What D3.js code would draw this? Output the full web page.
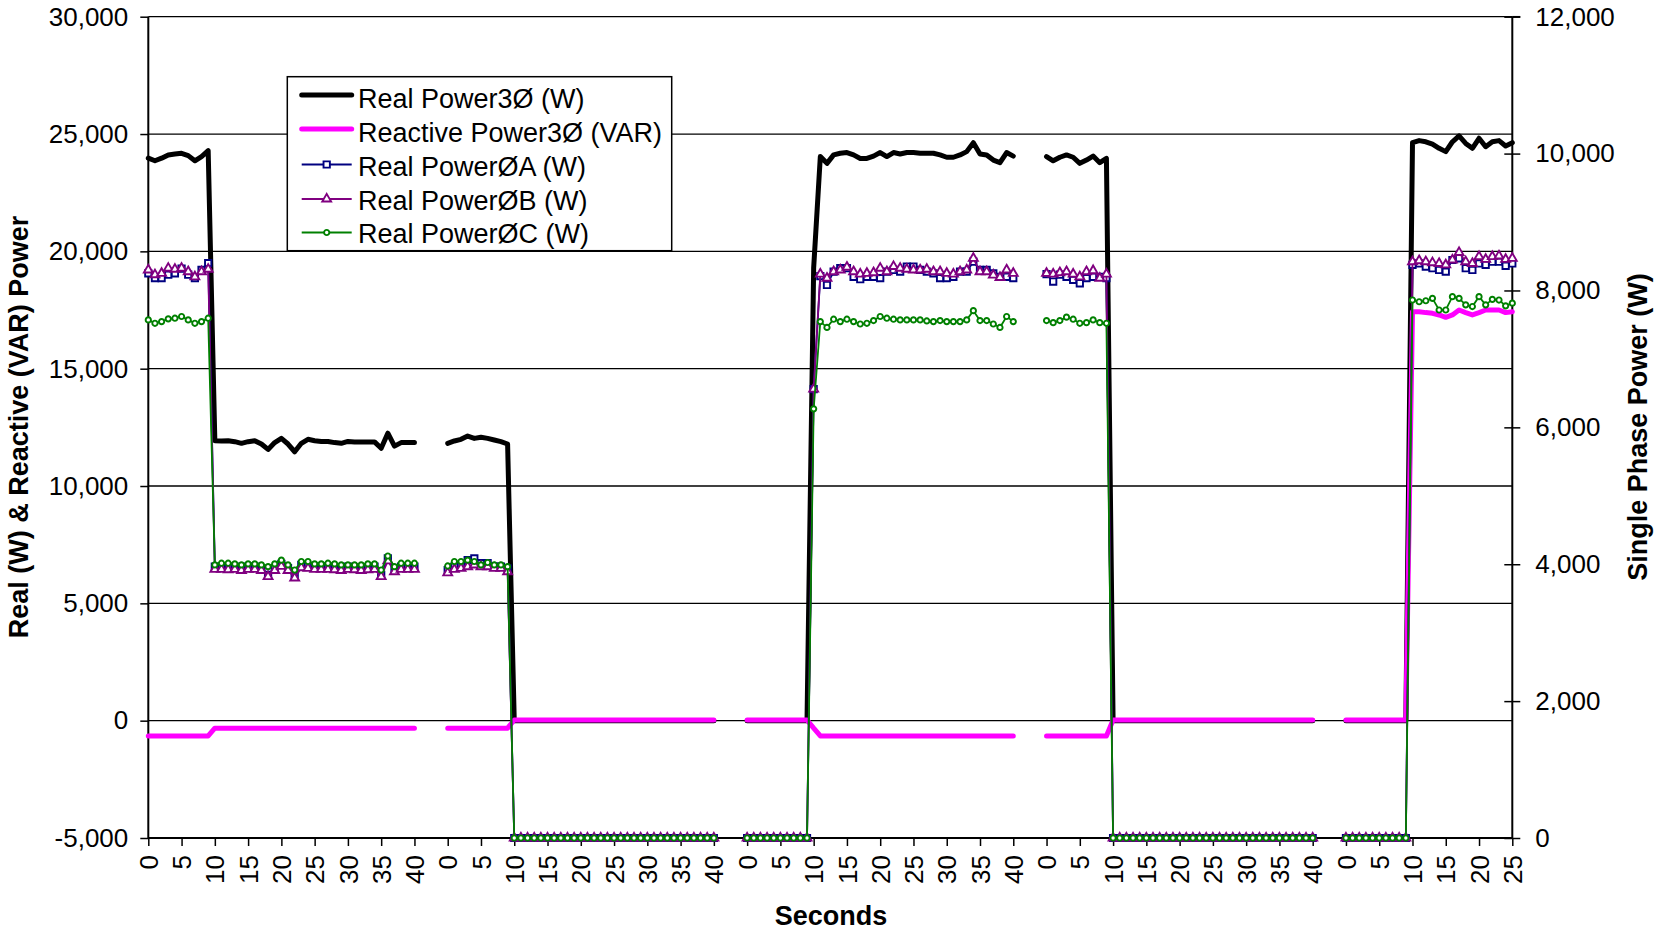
<!DOCTYPE html>
<html><head><meta charset="utf-8">
<script src="https://cdn.jsdelivr.net/npm/d3@7"></script>
<style>
html,body{margin:0;padding:0;background:#fff;}
svg{display:block;font-family:"Liberation Sans",Arial,Helvetica,sans-serif;}
</style>
</head><body>
<svg id="chart" width="1657" height="932"></svg>
<script>
// ---------- categories (seconds, restarting for each run) ----------
const secondsRun = [0,1,2,3,4,5,6,7,8,9,10,11,12,13,14,15,16,17,18,19,20,21,22,23,24,25,26,27,28,29,30,31,32,33,34,35,36,37,38,39,40,41,42,43,44];
const secondsLastRun = [0,1,2,3,4,5,6,7,8,9,10,11,12,13,14,15,16,17,18,19,20,21,22,23,24,25];
const categories = [].concat(secondsRun, secondsRun, secondsRun, secondsRun, secondsLastRun);

const leftTicks = [-5000,0,5000,10000,15000,20000,25000,30000];
const rightTicks = [0,2000,4000,6000,8000,10000,12000];
const N = null;

// ---------- series (left axis) ----------
const realPower3 = [
 23970,23860,23970,24110,24150,24180,24080,23860,24040,24290,
 11930,11920,11930,11890,11820,11890,11930,11790,11560,11850,12030,11790,11460,11820,11990,11930,11900,11900,11850,11820,11900,11880,11880,11880,11880,11610,12250,11700,11850,11850,11850,
 N,N,N,N,
 11820,11920,11990,12130,12030,12080,12030,11960,11890,11790,
 0,0,0,0,0,0,0,0,0,0, 0,0,0,0,0,0,0,0,0,0, 0,0,0,0,0,0,0,0,0,0, 0,
 N,N,N,N,
 0,0,0,0,0,0,0,0,0,0,
 19300,
 24040,23750,24110,24180,24210,24110,23960,23960,24060,24210,24040,24210,24150,24210,24210,24180,24180,24180,24110,24010,24010,24110,24250,24630,24150,24110,23890,23780,24210,24060,
 N,N,N,N,
 24040,23860,24010,24110,24010,23750,23890,24060,23780,23960,
 0,0,0,0,0,0,0,0,0,0, 0,0,0,0,0,0,0,0,0,0, 0,0,0,0,0,0,0,0,0,0, 0,
 N,N,N,N,
 0,0,0,0,0,0,0,0,0,0,
 24630,24720,24670,24570,24390,24250,24670,24920,24600,24390,24820,24460,24670,24720,24490,24630
];
const reactivePower3 = [
 -650,-650,-650,-650,-650,-650,-650,-650,-650,-650,
 -320,-320,-320,-320,-320,-320,-320,-320,-320,-320, -320,-320,-320,-320,-320,-320,-320,-320,-320,-320, -320,-320,-320,-320,-320,-320,-320,-320,-320,-320, -320,
 N,N,N,N,
 -320,-320,-320,-320,-320,-320,-320,-320,-320,-320,
 30,30,30,30,30,30,30,30,30,30, 30,30,30,30,30,30,30,30,30,30, 30,30,30,30,30,30,30,30,30,30, 30,
 N,N,N,N,
 30,30,30,30,30,30,30,30,30,30,
 -320,
 -650,-650,-650,-650,-650,-650,-650,-650,-650,-650, -650,-650,-650,-650,-650,-650,-650,-650,-650,-650, -650,-650,-650,-650,-650,-650,-650,-650,-650,-650,
 N,N,N,N,
 -650,-650,-650,-650,-650,-650,-650,-650,-650,-650,
 30,30,30,30,30,30,30,30,30,30, 30,30,30,30,30,30,30,30,30,30, 30,30,30,30,30,30,30,30,30,30, 30,
 N,N,N,N,
 30,30,30,30,30,30,30,30,30,30,
 17430,17430,17390,17360,17290,17190,17290,17500,17390,17290,17390,17500,17500,17500,17390,17430
];

// ---------- series (right axis, single phase) ----------
const realPowerA = [
 8250,8180,8180,8230,8250,8320,8230,8180,8300,8400,
 3965,3965,3955,3965,3945,3965,3965,3945,3845,3945,4005,3945,3820,3990,3975,3965,3965,3965,3955,3945,3965,3955,3945,3955,3965,3845,4085,3920,3965,3965,3965,
 N,N,N,N,
 3915,3965,3975,4060,4085,4015,4015,3965,3965,3940,
 0,0,0,0,0,0,0,0,0,0, 0,0,0,0,0,0,0,0,0,0, 0,0,0,0,0,0,0,0,0,0, 0,
 N,N,N,N,
 0,0,0,0,0,0,0,0,0,0,
 6560,
 8210,8080,8275,8325,8325,8200,8165,8200,8200,8180,8275,8300,8275,8350,8350,8300,8275,8250,8180,8180,8200,8275,8275,8420,8300,8300,8250,8200,8200,8180,
 N,N,N,N,
 8240,8130,8230,8200,8155,8105,8180,8200,8200,8180,
 0,0,0,0,0,0,0,0,0,0, 0,0,0,0,0,0,0,0,0,0, 0,0,0,0,0,0,0,0,0,0, 0,
 N,N,N,N,
 0,0,0,0,0,0,0,0,0,0,
 8375,8395,8350,8325,8300,8275,8445,8470,8325,8300,8395,8375,8420,8420,8360,8395
];
const realPowerB = [
 8300,8230,8250,8325,8310,8325,8275,8200,8275,8310,
 3925,3925,3920,3925,3910,3925,3925,3910,3820,3910,3970,3910,3800,3950,3940,3925,3925,3925,3920,3910,3925,3920,3910,3920,3925,3820,4050,3890,3925,3925,3925,
 N,N,N,N,
 3875,3925,3940,3965,3990,3965,3965,3940,3940,3890,
 0,0,0,0,0,0,0,0,0,0, 0,0,0,0,0,0,0,0,0,0, 0,0,0,0,0,0,0,0,0,0, 0,
 N,N,N,N,
 0,0,0,0,0,0,0,0,0,0,
 6560,
 8240,8180,8275,8300,8340,8275,8240,8250,8260,8325,8275,8350,8325,8310,8300,8300,8310,8275,8275,8250,8240,8275,8300,8470,8275,8275,8225,8190,8300,8250,
 N,N,N,N,
 8250,8240,8260,8275,8240,8200,8275,8290,8180,8240,
 0,0,0,0,0,0,0,0,0,0, 0,0,0,0,0,0,0,0,0,0, 0,0,0,0,0,0,0,0,0,0, 0,
 N,N,N,N,
 0,0,0,0,0,0,0,0,0,0,
 8420,8435,8420,8405,8395,8375,8445,8555,8420,8395,8495,8455,8495,8505,8455,8470
];
const realPowerC = [
 7570,7520,7545,7585,7595,7620,7570,7520,7545,7595,
 3990,4015,4015,4005,3990,4005,4005,3990,3965,4005,4060,3990,3915,4040,4040,4005,4005,4015,4005,3990,3990,3990,3990,4005,4005,3915,4120,3965,4015,4015,4015,
 N,N,N,N,
 3975,4040,4040,4060,4040,3990,4025,3990,3990,3965,
 0,0,0,0,0,0,0,0,0,0, 0,0,0,0,0,0,0,0,0,0, 0,0,0,0,0,0,0,0,0,0, 0,
 N,N,N,N,
 0,0,0,0,0,0,0,0,0,0,
 6270,
 7545,7460,7580,7545,7580,7545,7510,7520,7560,7620,7595,7580,7570,7570,7570,7570,7555,7545,7560,7545,7545,7545,7570,7705,7560,7560,7510,7460,7620,7545,
 N,N,N,N,
 7560,7530,7560,7610,7580,7520,7530,7570,7530,7520,
 0,0,0,0,0,0,0,0,0,0, 0,0,0,0,0,0,0,0,0,0, 0,0,0,0,0,0,0,0,0,0, 0,
 N,N,N,N,
 0,0,0,0,0,0,0,0,0,0,
 7860,7835,7850,7885,7715,7715,7910,7885,7790,7765,7910,7790,7870,7860,7775,7815
];

// ---------- layout ----------
const plot = {left:148.3, right:1512.3, top:16.7, bottom:838};
const FONT = 26;
const TITLE_FONT = 27;
const LEGEND_FONT = 27;
const svg = d3.select("#chart");
const x = d3.scaleLinear().domain([0, categories.length-1]).range([plot.left, plot.right]);
const yL = d3.scaleLinear().domain([-5000,30000]).range([plot.bottom, plot.top]);
const yR = d3.scaleLinear().domain([0,12000]).range([plot.bottom, plot.top]);
const fmt = d3.formatLocale({decimal:".",thousands:",",grouping:[3],currency:["$",""],minus:"-"}).format(",");

// gridlines
svg.append("g").selectAll("line").data(leftTicks).join("line")
  .attr("x1", plot.left).attr("x2", plot.right)
  .attr("y1", d=>yL(d)).attr("y2", d=>yL(d))
  .attr("stroke","#000").attr("stroke-width",1.3);

// left axis
const gL = svg.append("g").attr("transform",`translate(${plot.left},0)`)
  .call(d3.axisLeft(yL).tickValues(leftTicks).tickSize(8).tickPadding(12).tickFormat(fmt));
gL.select(".domain").remove();
gL.selectAll(".tick line").attr("stroke","#000").attr("stroke-width",1.5);
gL.selectAll(".tick text").attr("font-size",FONT).attr("font-family","Liberation Sans, Arial, sans-serif").attr("fill","#000");

// right axis
const gR = svg.append("g").attr("transform",`translate(${plot.right},0)`)
  .call(d3.axisRight(yR).tickValues(rightTicks).tickSize(8).tickPadding(15).tickFormat(fmt));
gR.select(".domain").remove();
gR.selectAll(".tick line").attr("x1",-8).attr("x2",8).attr("stroke","#000").attr("stroke-width",1.5);
gR.selectAll(".tick text").attr("font-size",FONT).attr("font-family","Liberation Sans, Arial, sans-serif").attr("fill","#000");

// bottom axis
const tickIdx = categories.map((c,i)=>i).filter(i => categories[i] % 5 === 0);
const gB = svg.append("g").attr("transform",`translate(0,${plot.bottom})`)
  .call(d3.axisBottom(x).tickValues(tickIdx).tickSize(8).tickFormat(i => categories[i]));
gB.select(".domain").remove();
gB.selectAll(".tick line").attr("stroke","#000").attr("stroke-width",1.5);
gB.selectAll(".tick text")
  .attr("font-size",FONT).attr("font-family","Liberation Sans, Arial, sans-serif").attr("fill","#000")
  .attr("transform","rotate(-90)").attr("text-anchor","end")
  .attr("x",-17).attr("y",0).attr("dy","0.35em");

// axis lines
svg.append("line").attr("x1",plot.left).attr("x2",plot.left).attr("y1",plot.top).attr("y2",plot.bottom).attr("stroke","#000").attr("stroke-width",2);
svg.append("line").attr("x1",plot.right).attr("x2",plot.right).attr("y1",plot.top).attr("y2",plot.bottom).attr("stroke","#000").attr("stroke-width",2);
svg.append("line").attr("x1",plot.left).attr("x2",plot.right).attr("y1",plot.bottom).attr("y2",plot.bottom).attr("stroke","#000").attr("stroke-width",2);
svg.append("line").attr("x1",plot.right).attr("x2",plot.right+8).attr("y1",plot.top).attr("y2",plot.top).attr("stroke","#000").attr("stroke-width",1.5);

// ---------- series drawing ----------
const series = [
  {name:"Real Power3\u00D8 (W)", data:realPower3, y:yL, color:"#000000", width:5, marker:null},
  {name:"Reactive Power3\u00D8 (VAR)", data:reactivePower3, y:yL, color:"#FF00FF", width:5, marker:null},
  {name:"Real Power\u00D8A (W)", data:realPowerA, y:yR, color:"#000080", width:1.8, marker:d3.symbolSquare, msize:40},
  {name:"Real Power\u00D8B (W)", data:realPowerB, y:yR, color:"#800080", width:1.8, marker:d3.symbolTriangle, msize:34},
  {name:"Real Power\u00D8C (W)", data:realPowerC, y:yR, color:"#008000", width:1.8, marker:d3.symbolCircle, msize:22}
];

series.forEach(s => {
  const line = d3.line().defined(d => d !== null).x((d,i)=>x(i)).y(d=>s.y(d));
  const g = svg.append("g");
  g.append("path").attr("d", line(s.data)).attr("fill","none")
    .attr("stroke", s.color).attr("stroke-width", s.width)
    .attr("stroke-linejoin","round").attr("stroke-linecap","round");
  if (s.marker) {
    const sym = d3.symbol().type(s.marker).size(s.msize);
    g.selectAll("path.m").data(s.data.map((d,i)=>({d,i})).filter(p=>p.d!==null)).join("path")
      .attr("class","m").attr("d", sym())
      .attr("transform", p => `translate(${x(p.i)},${s.y(p.d)})`)
      .attr("fill","#fff").attr("stroke", s.color).attr("stroke-width",1.9);
  }
});

// ---------- titles ----------
svg.append("text").attr("transform",`translate(28,427) rotate(-90)`).attr("text-anchor","middle")
  .attr("font-size",TITLE_FONT).attr("font-weight","bold").text("Real (W) & Reactive (VAR) Power");
svg.append("text").attr("transform",`translate(1647,427) rotate(-90)`).attr("text-anchor","middle")
  .attr("font-size",TITLE_FONT).attr("font-weight","bold").text("Single Phase Power (W)");
svg.append("text").attr("x",831).attr("y",925).attr("text-anchor","middle")
  .attr("font-size",TITLE_FONT).attr("font-weight","bold").text("Seconds");

// ---------- legend ----------
const lg = svg.append("g");
lg.append("rect").attr("x",287.3).attr("y",76.7).attr("width",384.4).attr("height",174)
  .attr("fill","#fff").attr("stroke","#000").attr("stroke-width",1.5);
const rowLineY = [95,129,164.5,199,232.5];
const rowTextY = [98,132,166,200,233.5];
series.forEach((s,k) => {
  const yy = rowLineY[k];
  lg.append("line").attr("x1",301.7).attr("x2",351.7).attr("y1",yy).attr("y2",yy)
    .attr("stroke",s.color).attr("stroke-width",s.width).attr("stroke-linecap", s.marker ? "butt" : "round");
  if (s.marker) {
    lg.append("path").attr("d", d3.symbol().type(s.marker).size(s.msize)())
      .attr("transform",`translate(326.7,${yy})`).attr("fill","#fff").attr("stroke",s.color).attr("stroke-width",1.9);
  }
  lg.append("text").attr("x",358).attr("y",rowTextY[k]).attr("dy","0.36em").attr("font-size",LEGEND_FONT).text(s.name);
});
</script>
</body></html>
